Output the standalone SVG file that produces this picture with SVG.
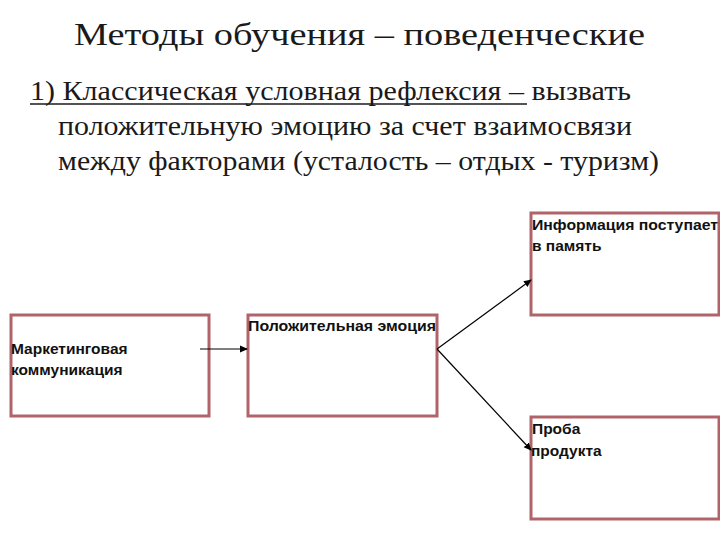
<svg xmlns="http://www.w3.org/2000/svg" width="720" height="540" viewBox="0 0 720 540">
<style>
.ser{font-family:"Liberation Serif","DejaVu Serif",serif;fill:#1a1a1a}
.box{fill:#fff;stroke:#b0646a;stroke-width:3}
.lbl{font-family:"Liberation Sans","Arial",sans-serif;font-size:15.5px;font-weight:bold;fill:#111}
.con{stroke:#000;stroke-width:1.2;fill:none;marker-end:url(#ah)}
</style>
<defs>
<marker id="ah" markerWidth="8" markerHeight="8" refX="7" refY="4" orient="auto" markerUnits="userSpaceOnUse">
<path d="M0,0.5 L8,4 L0,7.5 Z" fill="#000"/>
</marker>
</defs>
<rect width="720" height="540" fill="#fff"/>
<text class="ser" x="74" y="45" font-size="32" textLength="571" lengthAdjust="spacingAndGlyphs">Методы обучения – поведенческие</text>
<text class="ser" x="30" y="100" font-size="27" textLength="601" lengthAdjust="spacingAndGlyphs">1) Классическая условная рефлексия – вызвать</text>
<line x1="30" y1="104" x2="527" y2="104" stroke="#1a1a1a" stroke-width="1.5"/>
<text class="ser" x="58" y="135" font-size="27" textLength="574" lengthAdjust="spacingAndGlyphs">положительную эмоцию за счет взаимосвязи</text>
<text class="ser" x="58" y="170" font-size="27" textLength="601" lengthAdjust="spacingAndGlyphs">между факторами (усталость – отдых - туризм)</text>
<g id="n1"><rect class="box" x="11" y="315" width="198" height="101"/>
<text class="lbl" x="11" y="354">Маркетинговая</text><text class="lbl" x="11" y="375">коммуникация</text></g>
<g id="n2"><rect class="box" x="248" y="315" width="189" height="101"/>
<text class="lbl" x="248" y="331" textLength="188" lengthAdjust="spacingAndGlyphs">Положительная эмоция</text></g>
<g id="n3"><rect class="box" x="531" y="213" width="188" height="102"/>
<text class="lbl" x="532" y="230" textLength="186" lengthAdjust="spacingAndGlyphs">Информация поступает</text><text class="lbl" x="532" y="251">в память</text></g>
<g id="n4"><rect class="box" x="531" y="417" width="188" height="102"/>
<text class="lbl" x="532" y="434">Проба</text><text class="lbl" x="531" y="456">продукта</text></g>
<g id="connectors">
<line class="con" x1="200" y1="349" x2="247" y2="349"/>
<line class="con" x1="437" y1="349" x2="531" y2="280"/>
<line class="con" x1="437" y1="349" x2="531" y2="450"/>
</g>
</svg>
